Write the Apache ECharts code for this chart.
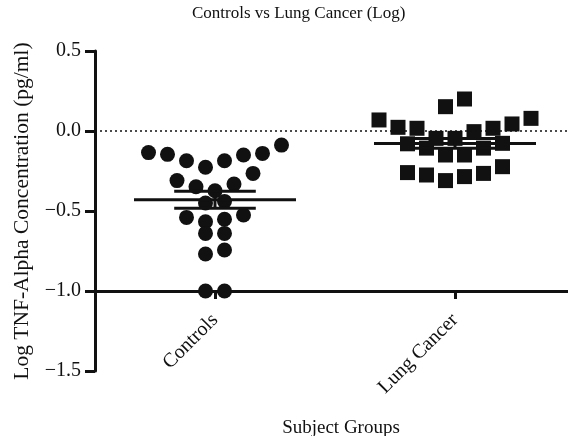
<!DOCTYPE html>
<html>
<head>
<meta charset="utf-8">
<script src="https://cdn.jsdelivr.net/npm/echarts@6/dist/echarts.min.js"></script>
<style>
html,body{margin:0;padding:0;background:#fff;}
#chart{width:568px;height:436px;}
</style>
</head>
<body>
<div id="chart"></div>
<script>
// ---- data ----
const categories = ['Controls', 'Lung Cancer'];
const controlsValues = [-0.135, -0.15, -0.186, -0.227, -0.186, -0.146, -0.14, -0.088,
  -0.348, -0.31, -0.265, -0.331, -0.373, -0.45, -0.44,
  -0.54, -0.567, -0.552, -0.525, -0.64, -0.64, -0.744, -0.769, -1.0, -1.0];
const lungCancerValues = [0.20, 0.152, 0.079, 0.044, 0.017, -0.004, 0.017, 0.023, 0.069,
  -0.046, -0.077, -0.107, -0.15, -0.15, -0.107, -0.08, -0.046,
  -0.265, -0.275, -0.31, -0.285, -0.26, -0.223];
const yTicks = [-1.5, -1.0, -0.5, 0.0, 0.5];

// ---- layout helpers (not data) ----
const FONT = 'Liberation Serif, Times New Roman, serif';
const INK = '#111';
const X_MIN = 0.5, X_MAX = 2.5;
const Y_MIN = yTicks[0], Y_MAX = yTicks[yTicks.length - 1];
const X_CROSS = -1.0;           // value where the x axis crosses the y axis
const GRID = {left: 95, top: 51, width: 480, height: 320, outerBoundsMode: 'none', containLabel: false};
const STEP = 19 / 240;          // horizontal spread step for overlapping points
const ROW_SPAN = 0.15, ROW_GAP = 0.06;
const MEAN_HALF = 0.3375, CAP_HALF = 0.17;

function spread(values, center) {
  const sorted = values.slice().sort((a, b) => b - a);
  const rows = [];
  let cur = null;
  sorted.forEach(v => {
    if (!cur || cur.start - v > ROW_SPAN || cur.last - v > ROW_GAP) {
      cur = {start: v, last: v, pts: []};
      rows.push(cur);
    }
    cur.pts.push(v); cur.last = v;
  });
  const out = [];
  rows.forEach(r => {
    const asc = r.pts.slice().sort((a, b) => a - b);
    const n = asc.length, slots = [];
    if (n % 2) { slots.push(0); for (let k = 1; slots.length < n; k++) { slots.push(-k); if (slots.length < n) slots.push(k); } }
    else { for (let k = 0.5; slots.length < n; k++) { slots.push(-k); slots.push(k); } }
    asc.forEach((v, j) => out.push([center + slots[j] * STEP, v]));
  });
  return out;
}
function meanSem(vals) {
  const n = vals.length;
  const m = vals.reduce((a, b) => a + b, 0) / n;
  const sd = Math.sqrt(vals.reduce((a, b) => a + (b - m) * (b - m), 0) / (n - 1));
  return [m, sd / Math.sqrt(n)];
}
const groups = [controlsValues, lungCancerValues];
const summary = groups.map((vals, i) => [i + 1].concat(meanSem(vals)));
const xOffset = -(X_CROSS - Y_MIN) / (Y_MAX - Y_MIN) * GRID.height;

const chart = echarts.init(document.getElementById('chart'), null, {renderer: 'canvas'});
const fmtY = v => (v < 0 ? '\u2212' : '') + Math.abs(v).toFixed(1);

chart.setOption({
  backgroundColor: '#fff',
  animation: false,
  title: {
    text: 'Controls vs Lung Cancer (Log)',
    left: 192, top: 5, padding: 0,
    textStyle: {fontFamily: FONT, fontSize: 17, fontWeight: 'normal', color: INK}
  },
  grid: GRID,
  xAxis: {
    type: 'value', min: X_MIN, max: X_MAX,
    offset: xOffset,
    name: 'Subject Groups', nameLocation: 'middle', nameGap: 128,
    nameTextStyle: {fontFamily: FONT, fontSize: 19, color: INK, padding: [0, 0, 0, 12]},
    axisLine: {show: true, onZero: false, lineStyle: {color: INK, width: 3}},
    axisTick: {show: true, customValues: [1, 2], length: 8, lineStyle: {color: INK, width: 3}},
    axisLabel: {
      customValues: [1, 2], rotate: 45, margin: 26,
      formatter: v => categories[Math.round(v) - 1] || '',
      fontFamily: FONT, fontSize: 20, color: INK
    },
    splitLine: {show: false}
  },
  yAxis: {
    type: 'value', min: Y_MIN, max: Y_MAX, interval: 0.5,
    name: 'Log TNF-Alpha Concentration (pg/ml)', nameLocation: 'middle', nameGap: 52,
    nameTextStyle: {fontFamily: FONT, fontSize: 21.5, color: INK, padding: [0, 0, 6, 0]},
    axisLine: {show: true, lineStyle: {color: INK, width: 3}},
    axisTick: {show: true, length: 10, lineStyle: {color: INK, width: 3}},
    axisLabel: {formatter: fmtY, margin: 14, fontFamily: FONT, fontSize: 20, color: INK},
    splitLine: {show: false}
  },
  series: [
    {
      name: categories[0], type: 'scatter',
      data: spread(controlsValues, 1),
      symbol: 'circle', symbolSize: 15,
      itemStyle: {color: INK, opacity: 1},
      markLine: {
        silent: true, symbol: 'none', label: {show: false},
        lineStyle: {color: INK, type: [2, 3], width: 1.5, opacity: 1},
        data: [{yAxis: 0}]
      },
      z: 3
    },
    {
      name: categories[1], type: 'scatter',
      data: spread(lungCancerValues, 2),
      symbol: 'rect', symbolSize: 15,
      itemStyle: {color: INK, opacity: 1},
      z: 3
    },
    {
      type: 'custom', data: summary, encode: {x: 0, y: 1}, z: 4,
      renderItem: function (params, api) {
        const x = api.value(0), m = api.value(1), s = api.value(2);
        const seg = (x1, y1, x2, y2) => {
          const a = api.coord([x1, y1]), b = api.coord([x2, y2]);
          return {type: 'line', shape: {x1: a[0], y1: a[1], x2: b[0], y2: b[1]},
            style: {stroke: INK, lineWidth: 3}};
        };
        return {type: 'group', children: [
          seg(x - MEAN_HALF, m, x + MEAN_HALF, m),
          seg(x, m - s, x, m + s),
          seg(x - CAP_HALF, m + s, x + CAP_HALF, m + s),
          seg(x - CAP_HALF, m - s, x + CAP_HALF, m - s)
        ]};
      }
    }
  ]
});
</script>
</body>
</html>
